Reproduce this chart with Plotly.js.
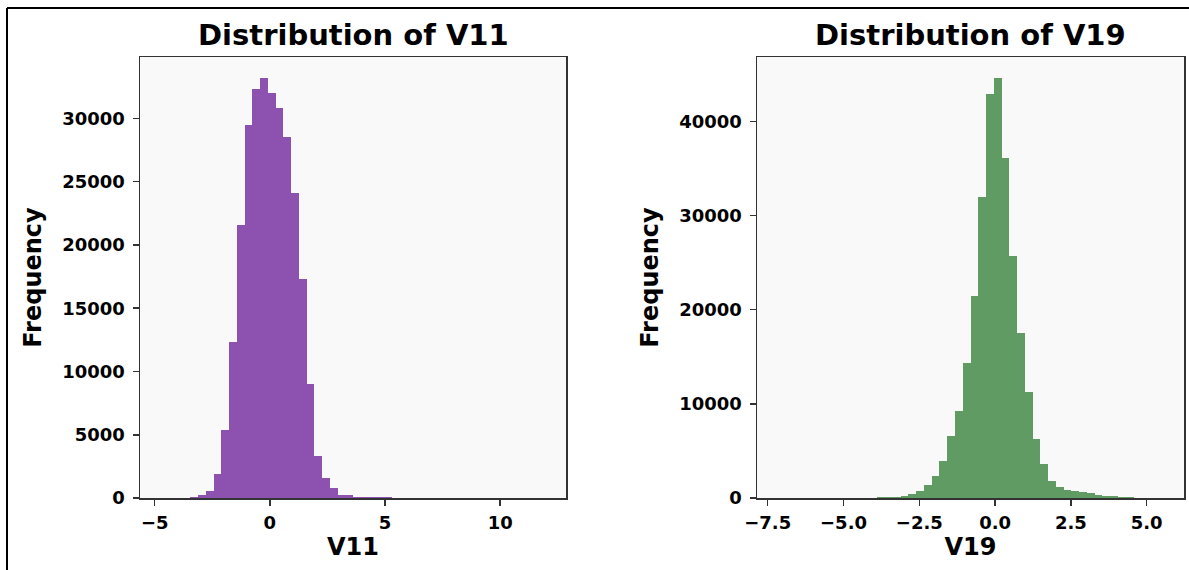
<!DOCTYPE html>
<html>
<head>
<meta charset="utf-8">
<script src="https://cdn.plot.ly/plotly-3.0.1.min.js"></script>
<style>html,body{margin:0;padding:0;background:#fff;}#chart{width:1189px;height:570px;}</style>
</head>
<body>
<div id="chart"></div>
<script>
// ---- Data (50-bin histograms) ----
const v11Min = -4.797, v11Max = 12.018;
const v11Counts = [2, 5, 14, 35, 90, 220, 520, 1930, 5350, 12340,
  21570, 29480, 32300, 33200, 32000, 30850, 28560, 24080, 17350, 8990,
  3300, 1610, 820, 230, 210, 90, 85, 80, 75, 40,
  25, 15, 10, 8, 5, 4, 3, 2, 2, 1,
  1, 1, 0, 1, 0, 0, 1, 0, 0, 2];

const v19Min = -7.2135, v19Max = 5.592;
const v19Counts = [1, 1, 2, 2, 3, 4, 6, 8, 10, 14,
  20, 30, 45, 70, 110, 120, 250, 390, 720, 1330,
  2320, 3970, 6590, 9280, 14380, 21500, 32000, 42900, 44600, 36080,
  25740, 17530, 11300, 6270, 3620, 1760, 1180, 900, 750, 600,
  480, 350, 260, 180, 110, 60, 30, 15, 6, 3];

const v11Ticks = [-5, 0, 5, 10];
const v11YTicks = [0, 5000, 10000, 15000, 20000, 25000, 30000];
const v19Ticks = [-7.5, -5.0, -2.5, 0.0, 2.5, 5.0];
const v19YTicks = [0, 10000, 20000, 30000, 40000];

const titles = ["Distribution of V11", "Distribution of V19"];
const xLabels = ["V11", "V19"];
const yLabel = "Frequency";

// ---- helpers ----
function centers(min, max, n) {
  const w = (max - min) / n;
  const c = [];
  for (let i = 0; i < n; i++) c.push(min + (i + 0.5) * w);
  return {c: c, w: w};
}
function padRange(min, max) {
  const p = 0.05 * (max - min);
  return [min - p, max + p];
}

const b11 = centers(v11Min, v11Max, v11Counts.length);
const b19 = centers(v19Min, v19Max, v19Counts.length);

const FONT = 'DejaVu Sans, Arial, sans-serif';
const tickFont = {family: FONT, size: 18, color: '#000', weight: 'bold'};
const labFont = {family: FONT, size: 24, color: '#000', weight: 'bold'};
const titFont = {family: FONT, size: 29, color: '#000', weight: 'bold'};

const traces = [
  {type: 'bar', x: b11.c, y: v11Counts, width: b11.w, xaxis: 'x', yaxis: 'y',
   marker: {color: '#8d51b0', line: {width: 0}}, hoverinfo: 'x+y', showlegend: false},
  {type: 'bar', x: b19.c, y: v19Counts, width: b19.w, xaxis: 'x2', yaxis: 'y2',
   marker: {color: '#619b64', line: {width: 0}}, hoverinfo: 'x+y', showlegend: false}
];

const axCommon = {
  showgrid: false, zeroline: false, showline: true, mirror: true,
  linecolor: '#333', linewidth: 1.5, ticks: 'outside', ticklen: 6,
  tickwidth: 1.5, tickcolor: '#333', tickfont: tickFont, automargin: false
};

// plot area: x 140..1184, y 57..498 in pixels
const L = 140, R = 1184, T = 57, B = 498, W = 1189, H = 570;
const PW = R - L, PH = B - T;
const px = v => (v - L) / PW;
const py = v => (B - v) / PH;

const layout = {
  width: W, height: H,
  margin: {l: L, r: W - R, t: T, b: H - B, pad: 0},
  paper_bgcolor: '#ffffff', plot_bgcolor: '#f9f9f9',
  bargap: 0, showlegend: false,
  xaxis: Object.assign({}, axCommon, {
    domain: [0, px(566)], anchor: 'y',
    range: padRange(v11Min, v11Max), tickvals: v11Ticks, tickformat: 'd',
    ticklabelstandoff: 2,
    title: {text: xLabels[0], font: labFont, standoff: 6}
  }),
  yaxis: Object.assign({}, axCommon, {
    domain: [0, 1], anchor: 'x',
    range: [0, 1.05 * Math.max(...v11Counts)], tickvals: v11YTicks, tickformat: 'd',
    ticklabelstandoff: 4,
    title: {text: yLabel, font: labFont, standoff: 14}
  }),
  xaxis2: Object.assign({}, axCommon, {
    domain: [px(757), 1], anchor: 'y2',
    range: padRange(v19Min, v19Max), tickvals: v19Ticks, tickformat: '.1f',
    ticklabelstandoff: 2,
    title: {text: xLabels[1], font: labFont, standoff: 6}
  }),
  yaxis2: Object.assign({}, axCommon, {
    domain: [0, 1], anchor: 'x2',
    range: [0, 1.05 * Math.max(...v19Counts)], tickvals: v19YTicks, tickformat: 'd',
    ticklabelstandoff: 4,
    title: {text: yLabel, font: labFont, standoff: 14}
  }),
  annotations: [
    {text: titles[0], xref: 'paper', yref: 'paper', x: px(353), y: py(35),
     xanchor: 'center', yanchor: 'middle', showarrow: false, font: titFont},
    {text: titles[1], xref: 'paper', yref: 'paper', x: px(970.5), y: py(35),
     xanchor: 'center', yanchor: 'middle', showarrow: false, font: titFont}
  ],
  shapes: [
    {type: 'line', xref: 'paper', yref: 'paper', x0: px(7), x1: px(1189), y0: py(8), y1: py(8),
     line: {color: '#000', width: 2}},
    {type: 'line', xref: 'paper', yref: 'paper', x0: px(7), x1: px(7), y0: py(8), y1: py(570),
     line: {color: '#000', width: 2}}
  ]
};

Plotly.newPlot('chart', traces, layout, {displayModeBar: false, staticPlot: true});
</script>
</body>
</html>
